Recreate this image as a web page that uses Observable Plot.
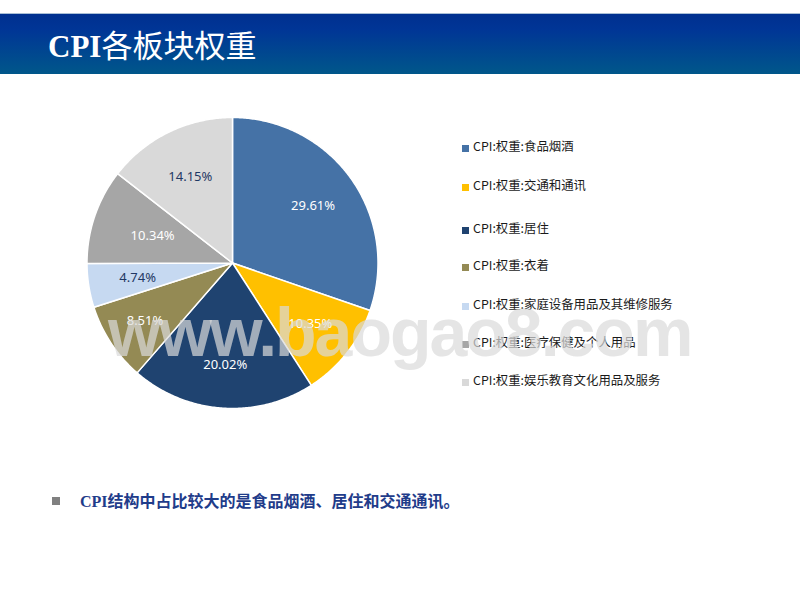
<!DOCTYPE html>
<html><head><meta charset="utf-8">
<script src="https://cdn.jsdelivr.net/npm/d3@7"></script>
<script src="https://cdn.jsdelivr.net/npm/@observablehq/plot@0.6"></script>
<style>
body{margin:0;width:800px;height:600px;position:relative;overflow:hidden;background:#fff;font-family:"Noto Sans CJK SC",sans-serif;}
#band{position:absolute;left:0;top:13px;width:800px;height:61px;background:linear-gradient(#00308f,#003596 25%,#00578a);border-top:1px solid #a9bfd6;box-sizing:border-box}
#title{position:absolute;left:48px;top:27px;color:#fff;font-size:31px;line-height:33px;white-space:nowrap}
#title .en{font-family:"Liberation Serif",serif;font-weight:bold}
#chart{position:absolute;left:0;top:0}
#legend{position:absolute;left:0;top:0}
.li{position:absolute;left:462px;height:16px;line-height:16px;font-size:12.4px;color:#1a1a1a;white-space:nowrap}
.li .sw{display:inline-block;width:7px;height:7px;margin-right:4px;vertical-align:-1px}
#wm{position:absolute;left:108px;top:292px;font-family:"Liberation Sans",Arial,sans-serif;font-weight:bold;font-size:68px;letter-spacing:-2px;color:rgba(218,218,218,0.7);white-space:nowrap;pointer-events:none;line-height:80px}
#bul{position:absolute;left:52px;top:497px;width:8px;height:8px;background:#808080}
#note{position:absolute;left:80px;top:490px;font-size:16px;line-height:21px;font-weight:bold;color:#1f3c8a;white-space:nowrap}
#note .en{font-family:"Liberation Serif",serif}
</style></head>
<body>
<div id="band"></div>
<div id="title"><span class="en">CPI</span>各板块权重</div>
<div id="chart"></div>
<div id="legend"></div>
<div id="wm">www.baogao8.com</div>
<div id="bul"></div>
<div id="note"><span class="en">CPI</span>结构中占比较大的是食品烟酒、居住和交通通讯。</div>
<script>
const categories = ["CPI:权重:食品烟酒","CPI:权重:交通和通讯","CPI:权重:居住","CPI:权重:衣着","CPI:权重:家庭设备用品及其维修服务","CPI:权重:医疗保健及个人用品","CPI:权重:娱乐教育文化用品及服务"];
const values = [29.61, 10.35, 20.02, 8.51, 4.74, 10.34, 14.15];
const colors = ["#4572a6","#ffc000","#1f4370","#948a54","#c6d9f1","#a6a6a6","#d9d9d9"];
const labelColors = ["#ffffff","#ffffff","#ffffff","#ffffff","#1f3864","#ffffff","#1f3864"];
const labelRadius = [0.68, 0.68, 0.70, 0.72, 0.66, 0.58, 0.66];
const legendY = [146,185,228,265,304,342,380];

const arcs = d3.pie().sort(null).value(d => d)(values);
const slices = arcs.map((a, i) => {
  const pts = [{x: 0, y: 0}];
  const n = Math.max(2, Math.ceil((a.endAngle - a.startAngle) / 0.01));
  for (let k = 0; k <= n; k++) {
    const t = a.startAngle + (a.endAngle - a.startAngle) * k / n;
    pts.push({x: Math.sin(t), y: Math.cos(t)});
  }
  return pts;
});
const labels = arcs.map((a, i) => {
  const m = (a.startAngle + a.endAngle) / 2;
  const r = labelRadius[i];
  return {x: r * Math.sin(m), y: r * Math.cos(m), text: values[i].toFixed(2) + "%", color: labelColors[i]};
});

const marks = slices.map((pts, i) => Plot.line(pts, {x: "x", y: "y", fill: colors[i], stroke: "#ffffff", strokeWidth: 1.5, curve: "linear-closed"}));
marks.push(Plot.text(labels, {x: "x", y: "y", text: "text", fill: "color", fontSize: 13, fontFamily: "Noto Sans, sans-serif"}));

const plot = Plot.plot({
  width: 800, height: 600, margin: 0,
  x: {domain: [-1, 1], range: [86.5, 377.5], axis: null},
  y: {domain: [-1, 1], range: [408, 117], axis: null},
  style: {background: "transparent", overflow: "visible"},
  marks
});
document.getElementById("chart").appendChild(plot);

const lg = document.getElementById("legend");
categories.forEach((c, i) => {
  const d = document.createElement("div");
  d.className = "li";
  d.style.top = (legendY[i] - 8) + "px";
  d.innerHTML = `<span class="sw" style="background:${colors[i]}"></span>${c}`;
  lg.appendChild(d);
});
</script>
</body></html>
